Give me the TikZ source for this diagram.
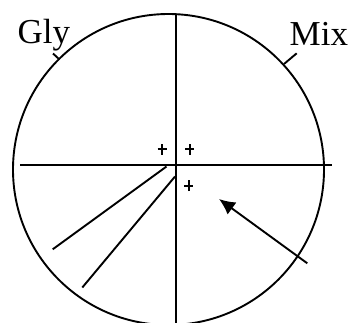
\documentclass[tikz,border=0pt]{standalone}
\usepackage{fontspec}
\setmainfont{Liberation Serif}
\usetikzlibrary{arrows.meta}
\begin{document}
\begin{tikzpicture}[x=1pt,y=-1pt,
  ln/.style={line width=1.9pt,line cap=butt},
  lbl/.style={inner sep=0pt,anchor=base west,font=\fontsize{35}{40}\selectfont},
  pl/.style={inner sep=0pt,line width=2pt}]
\useasboundingbox (0,0) rectangle (350,322);
\coordinate (C) at (168.5,169.5);
\draw[ln] (C) circle[radius=155.5];
% axes
\coordinate (vt) at (175.7,14);
\coordinate (vb) at (175.7,323);
\coordinate (hl) at (20,165);
\coordinate (hr) at (331.7,165);
\draw[ln] (vt) -- (vb);
\draw[ln] (hl) -- (hr);
% rays
\coordinate (r1a) at (166.5,166.5);
\coordinate (r1b) at (52.7,249.3);
\coordinate (r2a) at (175,176.5);
\coordinate (r2b) at (82.3,287.5);
\draw[ln] (r1a) -- (r1b);
\draw[ln] (r2a) -- (r2b);
% plus signs
\foreach \n/\x/\y in {p1/162/149, p2/189.5/149, p3/188.5/185.5}{
  \coordinate (\n) at (\x,\y);
  \draw[pl] ([xshift=-4.5pt]\n) -- ([xshift=4.5pt]\n);
  \draw[pl] ([yshift=-5.5pt]\n) -- ([yshift=5.5pt]\n);
}
% arrow
\coordinate (as) at (307.3,263.3);
\coordinate (ae) at (219,199);
\draw[ln,-{Latex[length=16pt,width=15pt]}] (as) -- (ae);
% ticks
\coordinate (g1) at (53,53.5);
\coordinate (g2) at (59.5,59.5);
\draw[ln] (g1) -- (g2);
\coordinate (m1) at (284,64);
\coordinate (m2) at (296.7,53.3);
\draw[ln] (m1) -- (m2);
% labels
\node[lbl] (gly) at (17.3,43.3) {Gly};
\node[lbl] (mix) at (289.5,45) {Mix};
\end{tikzpicture}
\end{document}
